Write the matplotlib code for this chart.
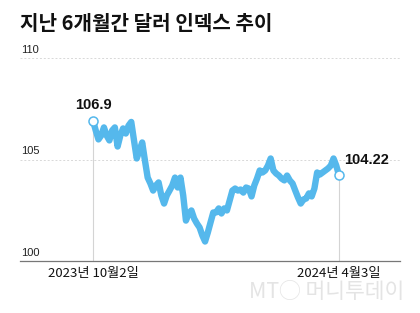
import matplotlib
matplotlib.use("Agg")
import matplotlib.pyplot as plt
import matplotlib.transforms as mtransforms

plt.rcParams["font.family"] = ["Noto Sans CJK KR", "DejaVu Sans"]

title = "지난 6개월간 달러 인덱스 추이"
start_label = "2023년 10월2일"
end_label = "2024년 4월3일"
y_ticks = [100, 105, 110]

# daily dollar index, Oct 2 2023 -> Apr 3 2024
dxy = [
    106.92, 106.43, 105.99, 106.18, 106.58, 106.18, 105.94, 106.43, 106.58, 105.64,
    106.18, 106.53, 106.28, 106.67, 106.85, 105.94, 105.05, 105.44, 105.84, 104.95,
    104.11, 103.82, 103.47, 103.72, 103.87, 103.23, 102.83, 103.23, 103.47, 103.72,
    104.11, 103.62, 104.11, 103.23, 101.99, 102.34, 102.49, 102.09, 101.85, 101.65,
    101.26, 100.96, 101.40, 101.90, 102.39, 102.39, 102.59, 102.34, 102.59, 102.49,
    102.98, 103.47, 103.57, 103.47, 103.52, 103.37, 103.62, 103.57, 103.18, 103.72,
    104.06, 104.46, 104.36, 104.46, 104.70, 105.05, 104.46, 104.31, 104.21, 104.06,
    103.97, 104.21, 103.97, 103.82, 103.47, 103.13, 102.83, 103.03, 103.08, 103.33,
    103.18, 103.57, 104.36, 104.26, 104.36, 104.46, 104.56, 104.70, 105.05, 104.70,
    104.22,
]
first_txt = "106.9"
last_txt = "104.22"

W, H = 420, 313
fig = plt.figure(figsize=(W / 100, H / 100), dpi=100)
ax = fig.add_axes([20 / W, (H - 261) / H, 380 / W, (261 - 58) / H])

n = len(dxy)
step = (339 - 93) / (n - 1)
ax.set_xlim(-(93 - 20) / step, (n - 1) + (400 - 339) / step)
ax.set_ylim(100, 110)

xs = list(range(n))
line_c = "#55b8ec"
num_font = ["Liberation Sans", "DejaVu Sans"]

# vertical guides at start and end
ax.plot([0, 0], [100, dxy[0]], color="#d4d4d4", lw=0.8, zorder=1)
ax.plot([n - 1, n - 1], [100, dxy[-1]], color="#d4d4d4", lw=0.8, zorder=1)

for v in y_ticks[1:]:
    ax.axhline(v, color="#d8d8d8", lw=0.7, ls=(0, (2, 2)), zorder=0)
ax.axhline(100, color="#777777", lw=0.9, zorder=2, clip_on=False)

ax.plot(xs, dxy, color=line_c, lw=4.6, solid_joinstyle="round",
        solid_capstyle="round", zorder=3)
ax.plot([0, n - 1], [dxy[0], dxy[-1]], ls="none", marker="o", ms=6.5,
        mfc="white", mec=line_c, mew=1.1, zorder=4)

ax.annotate(first_txt, (0, dxy[0]), xytext=(0, 6), textcoords="offset points",
            ha="center", va="bottom", fontsize=10.5, fontweight="bold",
            family=num_font, color="#111111")
ax.annotate(last_txt, (n - 1, dxy[-1]), xytext=(4, 11), textcoords="offset points",
            ha="left", va="center", fontsize=10.5, fontweight="bold",
            family=num_font, color="#111111")

trans = mtransforms.blended_transform_factory(ax.transAxes, ax.transData)
for v in y_ticks:
    ax.text(0.003, v + 0.15, str(v), transform=trans, ha="left", va="bottom",
            fontsize=8, family=num_font, color="#222222")

ax.text(0, 99.72, start_label, ha="center", va="top", fontsize=9.5, color="#111111")
ax.text(n - 1, 99.72, end_label, ha="center", va="top", fontsize=9.5, color="#111111")

ax.axis("off")

fig.text(20 / W, 1 - 23 / H, title, ha="left", va="center", fontsize=14.5,
         fontweight="bold", color="#111111")
fig.text(404 / W, 1 - 292 / H, "MT◯ 머니투데이", ha="right", va="center",
         fontsize=15.5, color="#e4e4e4", style="italic")

fig.savefig("out.png", dpi=100)
